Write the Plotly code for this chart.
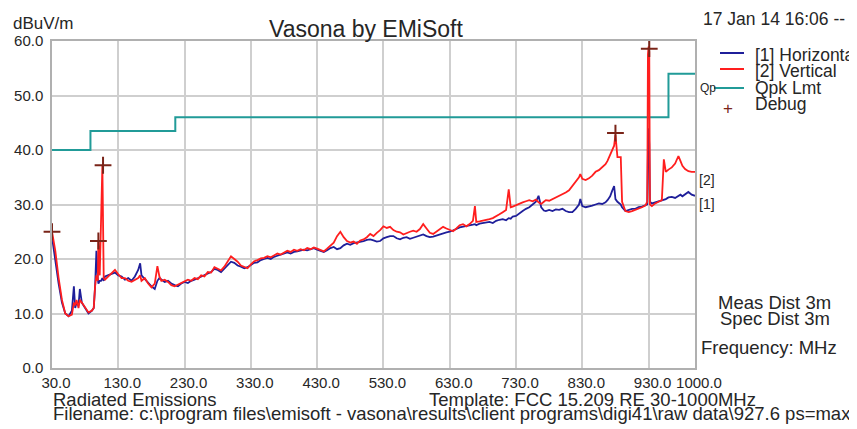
import plotly.graph_objects as go

# ---------------- data ----------------
freq = [30, 35, 40, 45, 50, 55, 60, 63, 65, 67,
        70, 72, 75, 80, 85, 90, 93, 95, 97, 99,
        100, 102, 104, 106, 108, 110, 115, 120, 125, 130,
        135, 140, 145, 150, 155, 160, 163, 165, 170, 175,
        180, 185, 189, 192, 195, 200, 205, 210, 215, 220,
        225, 230, 235, 240, 245, 250, 255, 260, 265, 270,
        275, 280, 285, 290, 295, 300, 305, 310, 315, 320,
        325, 330, 335, 340, 345, 350, 355, 360, 365, 370,
        375, 380, 385, 390, 395, 400, 405, 410, 415, 420,
        425, 430, 435, 440, 445, 450, 455, 460, 465, 470,
        475, 480, 485, 490, 495, 500, 505, 510, 515, 520,
        525, 530, 535, 540, 545, 550, 555, 560, 565, 570,
        575, 580, 585, 590, 595, 600, 605, 610, 615, 620,
        625, 630, 635, 640, 645, 650, 655, 660, 665, 668,
        670, 675, 680, 685, 690, 695, 700, 705, 710, 715,
        719, 722, 725, 730, 735, 740, 745, 750, 755, 760,
        764, 768, 772, 775, 780, 785, 790, 795, 800, 805,
        810, 815, 820, 825, 827, 830, 835, 840, 845, 850,
        855, 860, 865, 868, 872, 875, 878, 880, 883, 888,
        890, 895, 900, 905, 910, 915, 920, 925, 928, 929,
        930, 931, 932, 935, 940, 945, 950, 953, 956, 960,
        965, 970, 975, 978, 981, 985, 990, 995, 1000]

horizontal = [24.0, 19.5, 15.5, 12.0, 10.0, 9.5, 10.5, 15.0, 11.0, 12.0,
              11.5, 14.5, 12.0, 11.0, 10.0, 10.5, 11.0, 15.0, 21.5, 16.5,
              15.5, 16.0, 16.0, 16.5, 16.0, 16.8, 17.0, 17.2, 17.5, 17.0,
              16.8, 16.2, 16.5, 16.0, 16.8, 18.0, 19.2, 17.0, 16.3, 15.8,
              15.0, 14.5, 16.0, 16.5, 16.2, 15.8, 16.0, 15.5, 15.2, 15.0,
              15.5, 15.8, 15.6, 16.0, 16.2, 16.5, 16.8, 17.0, 17.3, 17.6,
              18.2, 18.0, 17.6, 18.3, 18.8, 19.5, 19.3, 18.8, 18.6, 18.3,
              18.5, 18.9, 19.3, 19.4, 19.8, 20.0, 20.2, 20.0, 20.4, 20.6,
              20.8, 21.0, 21.2, 21.0, 21.3, 21.4, 21.5, 21.7, 21.6, 21.8,
              22.0, 21.7, 21.5, 21.3, 21.6, 22.0, 22.2, 21.8, 22.0, 22.5,
              22.8, 22.6, 22.9, 23.0, 23.2, 23.3, 23.5, 23.6, 23.4, 23.2,
              23.3, 23.8, 24.0, 24.2, 24.2, 23.8, 23.6, 23.9, 24.0, 23.7,
              23.9, 24.1, 24.3, 24.5, 24.2, 24.0, 24.1, 24.3, 24.6, 24.8,
              24.9, 25.0, 25.2, 25.5, 25.8, 25.9, 26.0, 26.2, 26.3, 26.4,
              26.2, 26.5, 26.6, 26.7, 26.8, 26.6, 27.0, 27.2, 27.3, 27.1,
              27.5, 27.4, 27.8, 27.9, 28.4, 28.8, 29.2, 29.5, 30.0, 30.5,
              31.6, 29.5, 28.9, 28.8, 29.0, 28.8, 29.1, 29.0, 29.2, 28.8,
              28.6, 28.6, 29.2, 30.0, 31.0, 29.7, 29.5, 29.6, 29.8, 30.0,
              30.2, 30.1, 30.4, 30.8, 31.5, 32.5, 33.4, 31.0, 30.5, 30.0,
              29.5, 28.8, 29.0, 29.2, 29.2, 29.5, 29.6, 29.8, 30.0, 40.0,
              44.0, 41.0, 30.5, 30.2, 30.4, 30.5, 30.7, 30.8, 31.0, 31.3,
              31.4, 31.2, 31.6, 31.8, 31.5, 31.9, 32.3, 31.8, 31.6]

vertical = [25.0, 21.5, 16.5, 12.5, 10.0, 9.5, 9.8, 12.0, 11.5, 12.5,
            11.0, 12.5, 12.0, 11.0, 10.2, 10.5, 11.0, 15.0, 17.0, 16.0,
            23.3, 17.0, 26.0, 37.2, 16.5, 16.2, 16.8, 17.5, 18.0, 17.2,
            16.5, 16.5, 16.0, 15.8, 16.2, 16.5, 17.0, 16.0, 16.5, 15.5,
            14.8, 15.5, 18.7, 16.8, 16.0, 16.2, 15.8, 15.2, 15.0, 15.3,
            15.6, 15.9, 16.2, 16.0, 16.5, 16.3, 17.0, 16.8, 17.6, 17.5,
            18.5, 18.2, 17.9, 18.6, 19.5, 20.5, 20.0, 19.5, 18.8, 18.5,
            18.3, 19.0, 19.6, 19.8, 20.1, 20.2, 20.5, 20.3, 20.7, 21.0,
            20.8, 21.2, 21.5, 21.3, 21.7, 21.5, 21.8, 21.6, 22.0, 21.8,
            22.1, 21.9, 21.6, 21.4, 21.9, 22.5, 23.0, 24.2, 25.0, 24.0,
            23.3, 23.0, 23.2, 22.8, 23.4, 23.6, 24.0, 24.6, 24.2, 24.8,
            25.3, 26.0, 25.7, 25.9, 25.3, 25.0, 24.9, 24.5, 24.8, 25.0,
            25.2, 25.0, 25.5, 26.4, 25.6, 24.8, 24.6, 25.0, 25.4, 25.9,
            25.6, 25.3, 25.1, 25.6, 26.2, 26.4, 26.0, 26.4, 27.0, 29.7,
            26.8, 26.9, 27.0, 27.2, 27.3, 27.5, 27.8, 28.2, 28.6, 29.0,
            32.8, 29.5, 29.6, 29.9, 30.1, 30.4, 30.6, 30.8, 30.6, 30.9,
            30.4, 30.1, 30.5, 30.8, 30.7, 31.0, 31.2, 31.5, 31.9, 32.2,
            32.6, 33.4, 34.0, 35.0, 35.6, 34.7, 34.5, 34.8, 35.3, 36.0,
            36.3, 36.8, 37.4, 38.0, 39.2, 40.0, 40.8, 42.8, 38.7, 38.7,
            30.5, 28.8, 28.6, 28.8, 29.0, 29.3, 29.5, 29.8, 30.5, 57.5,
            59.0, 58.0, 30.0, 29.7, 30.2, 30.5, 30.8, 38.3, 36.0, 36.4,
            36.8, 37.5, 38.9, 38.0, 37.1, 36.5, 36.1, 36.0, 36.0]

limit_freq = [30, 88, 88, 216, 216, 960, 960, 1000]
limit_level = [40.0, 40.0, 43.5, 43.5, 46.0, 46.0, 54.0, 54.0]

debug_freq = [30, 100, 107, 880, 931]
debug_level = [25.0, 23.3, 37.2, 43.1, 58.6]

x_ticks = [30, 130, 230, 330, 430, 530, 630, 730, 830, 930, 1000]
y_ticks = [0, 10, 20, 30, 40, 50, 60]

assert len(freq) == len(horizontal) == len(vertical)

# ---------------- layout helpers ----------------
# The page body has an 8px margin, so the figure is drawn 8px smaller and
# every position below is given in window pixels and shifted back by 8.
OFF = 8
W, H = 857 - OFF, 429 - OFF
L, R, T, B = 52, 695, 41, 368          # plot area in window pixels


def px(x):
    return (x - L) / (R - L)


def py(y):
    return (B - y) / (B - T)


FONT = "Liberation Sans, Arial, sans-serif"
TXT = "#262626"
BLUE = "#1f1f9a"
RED = "#ff1e1e"
TEAL = "#219b98"
DEBUG = "#7a2418"

fig = go.Figure()
fig.add_trace(go.Scatter(x=limit_freq, y=limit_level, mode="lines",
                         line=dict(color=TEAL, width=2), name="Qpk Lmt"))
fig.add_trace(go.Scatter(x=freq, y=horizontal, mode="lines",
                         line=dict(color=BLUE, width=1.8), name="[1] Horizontal"))
fig.add_trace(go.Scatter(x=freq, y=vertical, mode="lines",
                         line=dict(color=RED, width=1.8), name="[2] Vertical"))
fig.add_trace(go.Scatter(x=debug_freq, y=debug_level, mode="markers",
                         marker=dict(symbol="cross-thin", size=12,
                                     line=dict(color=DEBUG, width=2)),
                         cliponaxis=False, name="Debug"))

annotations = []


def text(x, y, s, size=18.5, anchor="left", color=TXT):
    annotations.append(dict(x=px(x), y=py(y), xref="paper", yref="paper",
                            text=s, showarrow=False, xanchor=anchor,
                            yanchor="middle", borderpad=0,
                            font=dict(family=FONT, size=size, color=color)))


text(366, 29, "Vasona by EMiSoft", size=23, anchor="center")
text(12, 23, "dBuV/m", size=17)
text(702, 19, "17 Jan 14 16:06 --", size=17.5)
text(754, 55, "[1] Horizontal", size=17.5)
text(754, 71, "[2] Vertical", size=17.5)
text(754, 88, "Qpk Lmt", size=17.5)
text(754, 104, "Debug", size=17.5)
text(699, 88, "Qp", size=12)
text(728, 108, "+", size=17, anchor="center", color=DEBUG)
text(698, 180, "[2]", size=14)
text(698, 204, "[1]", size=14)
text(775, 302, "Meas Dist 3m", anchor="center")
text(775, 318, "Spec Dist 3m", anchor="center")
text(769, 347, "Frequency: MHz", anchor="center")
text(52, 399, "Radiated Emissions")
text(428, 399, "Template: FCC 15.209 RE 30-1000MHz")
text(52, 413, "Filename: c:\\program files\\emisoft - vasona\\results\\client programs\\digi41\\raw data\\927.6 ps=max")

shapes = []
for yy, col in [(53, BLUE), (69, RED)]:
    shapes.append(dict(type="line", xref="paper", yref="paper",
                       x0=px(720), x1=px(744), y0=py(yy), y1=py(yy),
                       line=dict(color=col, width=2)))
shapes.append(dict(type="line", xref="paper", yref="paper",
                   x0=px(714), x1=px(744), y0=py(88), y1=py(88),
                   line=dict(color=TEAL, width=2)))

fig.update_layout(
    width=W, height=H,
    margin=dict(l=L - OFF, r=857 - R, t=T - OFF, b=429 - B, pad=0, autoexpand=False),
    paper_bgcolor="white", plot_bgcolor="white",
    showlegend=False,
    annotations=annotations,
    shapes=shapes,
    font=dict(family=FONT, size=15, color=TXT),
    xaxis=dict(range=[30, 1000], tickvals=x_ticks,
               ticktext=[f"{v:.1f}" for v in x_ticks],
               showgrid=True, gridcolor="#cfcfcf", gridwidth=1.5,
               showline=True, mirror=True, linecolor="#b0b0b0", linewidth=1.5,
               zeroline=False, ticks="", automargin=False,
               ticklabelstandoff=0, ticklabelshift=4,
               tickfont=dict(size=15, color=TXT)),
    yaxis=dict(range=[0, 60], tickvals=y_ticks,
               ticktext=[f"{v:.1f}" for v in y_ticks],
               showgrid=True, gridcolor="#cfcfcf", gridwidth=1.5,
               showline=True, mirror=True, linecolor="#b0b0b0", linewidth=1.5,
               zeroline=False, ticks="", automargin=False, ticklabelstandoff=4,
               tickfont=dict(size=15, color=TXT)),
)

fig.write_html("out.html")
